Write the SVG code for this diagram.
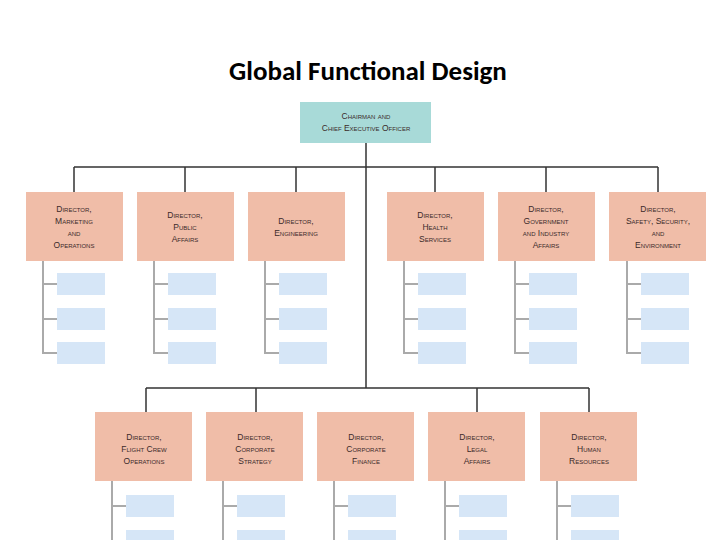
<svg xmlns="http://www.w3.org/2000/svg" width="720" height="540" viewBox="0 0 720 540">
<style>
.t{font-family:"Calibri","Carlito","Liberation Sans",sans-serif;font-size:27px;font-weight:bold;fill:#000}
.ceo{fill:#a8dad8}
.d{fill:#f0bda8}
.s{fill:#d6e6f7}
.l{font-family:"Liberation Sans",sans-serif;font-size:8.5px;font-variant:small-caps;fill:#3a2a2a;text-anchor:middle}
.bus{stroke:#333;stroke-width:1.5;fill:none}
.g{stroke:#aaa;stroke-width:2;fill:none}
</style>
<rect width="720" height="540" fill="#fff"/>
<text class="t" x="368" y="80" text-anchor="middle">Global Functional Design</text>
<g id="connectors">
<path class="bus" d="M366 143V388M74 167H658M74 167V192M185 167V192M296 167V192M435 167V192M546 167V192M658 167V192M146 388H589M146 388V412M256 388V412M477 388V412M589 388V412"/>
<path class="g" d="M43 261V353H57M43 284H57M43 319H57M154 261V353H168M154 284H168M154 319H168M265 261V353H279M265 284H279M265 319H279M404 261V353H418M404 284H418M404 319H418M515 261V353H529M515 284H529M515 319H529M627 261V353H641M627 284H641M627 319H641"/>
<path class="g" d="M112 481V540M112 506H126M223 481V540M223 506H237M334 481V540M334 506H348M445 481V540M445 506H459M557 481V540M557 506H571"/>
</g>
<g id="ceo"><rect class="ceo" x="300" y="102" width="131" height="41"/><text class="l"><tspan x="366" y="119">Chairman and</tspan><tspan x="366" y="131">Chief Executive Officer</tspan></text></g>
<g id="mkt"><rect class="d" x="26" y="192" width="97" height="69"/><text class="l"><tspan x="74" y="212">Director,</tspan><tspan x="74" y="224">Marketing</tspan><tspan x="74" y="236">and</tspan><tspan x="74" y="248">Operations</tspan></text></g>
<g id="pub"><rect class="d" x="137" y="192" width="97" height="69"/><text class="l"><tspan x="185" y="218">Director,</tspan><tspan x="185" y="230">Public</tspan><tspan x="185" y="242">Affairs</tspan></text></g>
<g id="eng"><rect class="d" x="248" y="192" width="97" height="69"/><text class="l"><tspan x="296" y="224">Director,</tspan><tspan x="296" y="236">Engineering</tspan></text></g>
<g id="health"><rect class="d" x="387" y="192" width="97" height="69"/><text class="l"><tspan x="435" y="218">Director,</tspan><tspan x="435" y="230">Health</tspan><tspan x="435" y="242">Services</tspan></text></g>
<g id="gov"><rect class="d" x="498" y="192" width="97" height="69"/><text class="l"><tspan x="546" y="212">Director,</tspan><tspan x="546" y="224">Government</tspan><tspan x="546" y="236">and Industry</tspan><tspan x="546" y="248">Affairs</tspan></text></g>
<g id="safety"><rect class="d" x="609" y="192" width="97" height="69"/><text class="l"><tspan x="658" y="212">Director,</tspan><tspan x="658" y="224">Safety, Security,</tspan><tspan x="658" y="236">and</tspan><tspan x="658" y="248">Environment</tspan></text></g>
<g id="subs1">
<rect class="s" x="57" y="273" width="48" height="22"/><rect class="s" x="57" y="308" width="48" height="22"/><rect class="s" x="57" y="342" width="48" height="22"/>
<rect class="s" x="168" y="273" width="48" height="22"/><rect class="s" x="168" y="308" width="48" height="22"/><rect class="s" x="168" y="342" width="48" height="22"/>
<rect class="s" x="279" y="273" width="48" height="22"/><rect class="s" x="279" y="308" width="48" height="22"/><rect class="s" x="279" y="342" width="48" height="22"/>
<rect class="s" x="418" y="273" width="48" height="22"/><rect class="s" x="418" y="308" width="48" height="22"/><rect class="s" x="418" y="342" width="48" height="22"/>
<rect class="s" x="529" y="273" width="48" height="22"/><rect class="s" x="529" y="308" width="48" height="22"/><rect class="s" x="529" y="342" width="48" height="22"/>
<rect class="s" x="641" y="273" width="48" height="22"/><rect class="s" x="641" y="308" width="48" height="22"/><rect class="s" x="641" y="342" width="48" height="22"/>
</g>
<g id="flight"><rect class="d" x="95" y="412" width="97" height="69"/><text class="l"><tspan x="144" y="440">Director,</tspan><tspan x="144" y="452">Flight Crew</tspan><tspan x="144" y="464">Operations</tspan></text></g>
<g id="strategy"><rect class="d" x="206" y="412" width="97" height="69"/><text class="l"><tspan x="255" y="440">Director,</tspan><tspan x="255" y="452">Corporate</tspan><tspan x="255" y="464">Strategy</tspan></text></g>
<g id="finance"><rect class="d" x="317" y="412" width="97" height="69"/><text class="l"><tspan x="366" y="440">Director,</tspan><tspan x="366" y="452">Corporate</tspan><tspan x="366" y="464">Finance</tspan></text></g>
<g id="legal"><rect class="d" x="428" y="412" width="97" height="69"/><text class="l"><tspan x="477" y="440">Director,</tspan><tspan x="477" y="452">Legal</tspan><tspan x="477" y="464">Affairs</tspan></text></g>
<g id="hr"><rect class="d" x="540" y="412" width="97" height="69"/><text class="l"><tspan x="589" y="440">Director,</tspan><tspan x="589" y="452">Human</tspan><tspan x="589" y="464">Resources</tspan></text></g>
<g id="subs2">
<rect class="s" x="126" y="495" width="48" height="22"/><rect class="s" x="126" y="530" width="48" height="12"/>
<rect class="s" x="237" y="495" width="48" height="22"/><rect class="s" x="237" y="530" width="48" height="12"/>
<rect class="s" x="348" y="495" width="48" height="22"/><rect class="s" x="348" y="530" width="48" height="12"/>
<rect class="s" x="459" y="495" width="48" height="22"/><rect class="s" x="459" y="530" width="48" height="12"/>
<rect class="s" x="571" y="495" width="48" height="22"/><rect class="s" x="571" y="530" width="48" height="12"/>
</g>
</svg>
